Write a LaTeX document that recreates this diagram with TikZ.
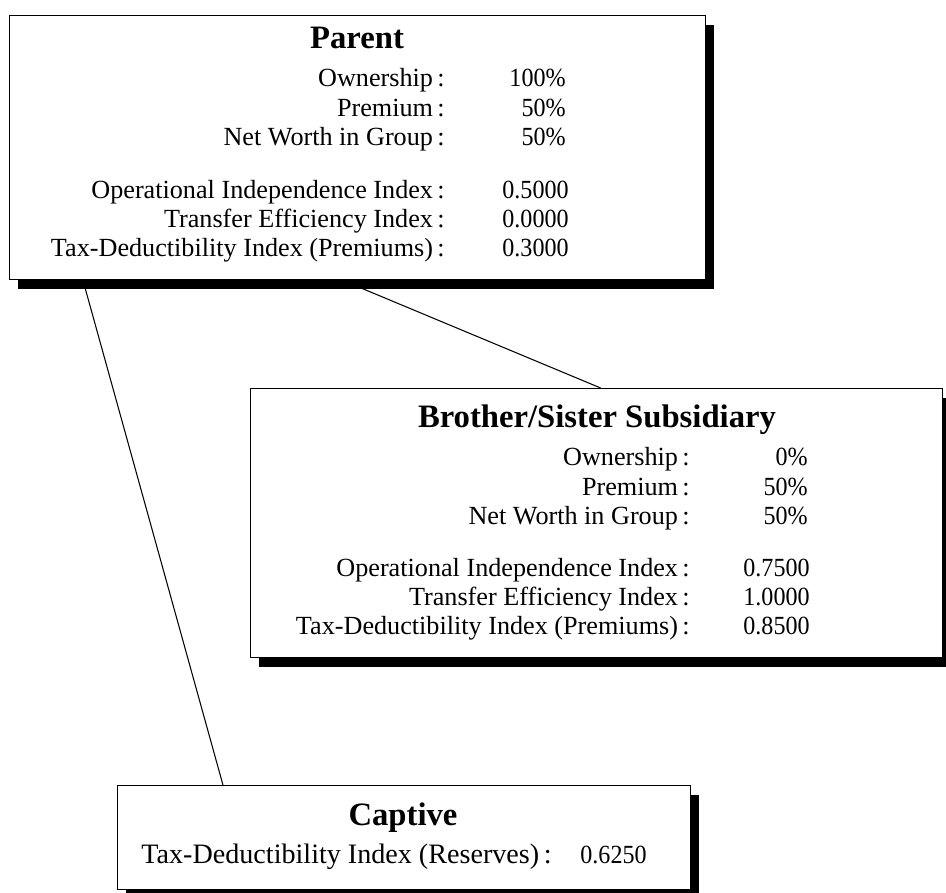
\documentclass[tikz,border=0pt]{standalone}
\usepackage{fontspec}
\setmainfont{Liberation Serif}
\newfontfamily\numfont{Liberation Serif}[FakeStretch=0.92]
\usetikzlibrary{shadows}
\tikzset{
  box/.style={draw, line width=0.8pt, fill=white, inner sep=0pt, anchor=north west,
    drop shadow={shadow xshift=0.16cm, shadow yshift=-0.18cm, fill=black, opacity=1}},
  title/.style={font=\fontsize{18.6}{20}\selectfont\bfseries, anchor=base, inner sep=0pt},
  lab/.style={font=\fontsize{14.9}{17}\selectfont, anchor=base east, inner sep=0pt},
  val/.style={font=\fontsize{14.9}{17}\selectfont\numfont, anchor=base east, inner sep=0pt},
  biglab/.style={font=\fontsize{16}{18}\selectfont, anchor=base east, inner sep=0pt},
  link/.style={line width=0.6pt}
}
\begin{document}
\begin{tikzpicture}[x=0.02cm, y=-0.02cm]
		\useasboundingbox (0,0) rectangle (946,892);
		% boxes
		\node[box, minimum width=13.92cm, minimum height=5.28cm] (parent) at (9,15) {};
		\node[box, minimum width=13.84cm, minimum height=5.38cm] (brother) at (250,388) {};
		\node[box, minimum width=11.46cm, minimum height=2.08cm] (captive) at (117,785) {};
		% connectors
		\draw[link] ([xshift=-0.3cm]parent.south) -- ([xshift=0.08cm]brother.north);
		\draw[link] ([xshift=1.48cm]parent.south west) -- ([xshift=2.12cm]captive.north west);
		% parent
		\node[title] (parentT) at (357,49) {Parent};
		\node[lab] (pOwn) at (445,87) {Ownership\,:};
		\node[val] (pOwnV) at (566,87) {100\%};
		\node[lab] (pPrem) at (445,116) {Premium\,:};
		\node[val] (pPremV) at (566,116) {50\%};
		\node[lab] (pNet) at (445,145) {Net Worth in Group\,:};
		\node[val] (pNetV) at (566,145) {50\%};
		\node[lab] (pOpi) at (445,198) {Operational Independence Index\,:};
		\node[val] (pOpiV) at (569,198) {0.5000};
		\node[lab] (pTei) at (445,227) {Transfer Efficiency Index\,:};
		\node[val] (pTeiV) at (569,227) {0.0000};
		\node[lab] (pTdi) at (445,256) {Tax-Deductibility Index (Premiums)\,:};
		\node[val] (pTdiV) at (569,256) {0.3000};
		% brother/sister
		\node[title] (brotherT) at (597,427) {Brother/Sister Subsidiary};
		\node[lab] (bOwn) at (690,465) {Ownership\,:};
		\node[val] (bOwnV) at (808,465) {0\%};
		\node[lab] (bPrem) at (690,495) {Premium\,:};
		\node[val] (bPremV) at (808,495) {50\%};
		\node[lab] (bNet) at (690,524) {Net Worth in Group\,:};
		\node[val] (bNetV) at (808,524) {50\%};
		\node[lab] (bOpi) at (690,576) {Operational Independence Index\,:};
		\node[val] (bOpiV) at (810,576) {0.7500};
		\node[lab] (bTei) at (690,605) {Transfer Efficiency Index\,:};
		\node[val] (bTeiV) at (810,605) {1.0000};
		\node[lab] (bTdi) at (690,634) {Tax-Deductibility Index (Premiums)\,:};
		\node[val] (bTdiV) at (810,634) {0.8500};
		% captive
		\node[title] (captiveT) at (403,825) {Captive};
		\node[biglab] (cTdi) at (552,863) {Tax-Deductibility Index (Reserves)\,:};
		\node[val] (cTdiV) at (647,863) {0.6250};
\end{tikzpicture}
\end{document}
